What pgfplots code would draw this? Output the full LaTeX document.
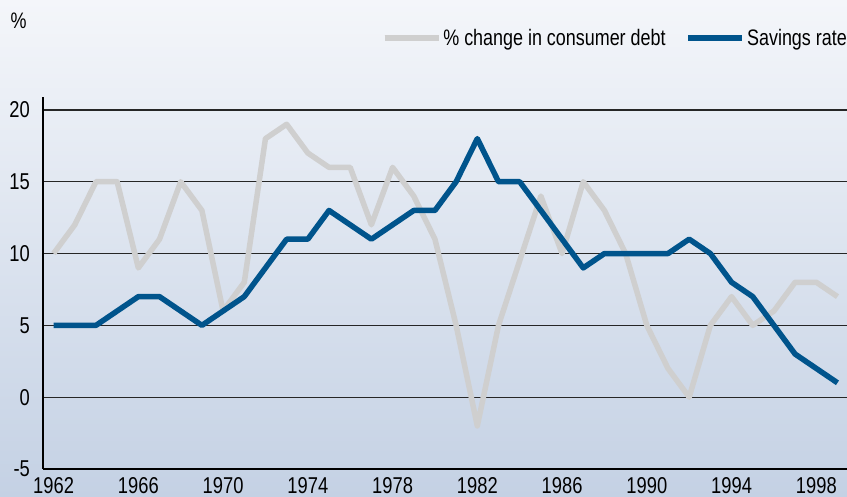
\documentclass[border=0pt]{standalone}
\usepackage{fontspec}
\setmainfont{Liberation Sans}[FakeStretch=0.8]
\usepackage{pgfplots}
\pgfplotsset{compat=1.18}
\definecolor{bgtop}{HTML}{F4F6FA}
\definecolor{bgbot}{HTML}{C4D1E4}
\definecolor{sav}{HTML}{00548C}
\definecolor{debt}{HTML}{CFCFCF}
\pgfplotstableread{
year debt sav
1962 10 5
1963 12 5
1964 15 5
1965 15 6
1966 9 7
1967 11 7
1968 15 6
1969 13 5
1970 6 6
1971 8 7
1972 18 9
1973 19 11
1974 17 11
1975 16 13
1976 16 12
1977 12 11
1978 16 12
1979 14 13
1980 11 13
1981 5 15
1982 -2 18
1983 5 15
1984 9.5 15
1985 14 13
1986 10 11
1987 15 9
1988 13 10
1989 10 10
1990 5 10
1991 2 10
1992 0 11
1993 5 10
1994 7 8
1995 5 7
1996 6 5
1997 8 3
1998 8 2
1999 7 1
}\datatable
\begin{document}
\begin{tikzpicture}[x=1bp,y=1bp]
\shade[top color=bgtop, bottom color=bgbot] (0,0) rectangle (847,497);
\node[anchor=center, inner sep=0pt, font=\fontsize{22.5}{26}\selectfont] at (18.5,476) {\%};
\begin{axis}[
  at={(43bp,28bp)}, anchor=south west,
  scale only axis, width=804bp, height=372bp,
  xmin=1961.5, xmax=1999.45, ymin=-5, ymax=20.9,
  axis x line=bottom, axis y line=left,
  axis line style={black, line width=1.2bp, -},
  xtick={1962,1966,...,1998},
  xticklabels={1962,1966,1970,1974,1978,1982,1986,1990,1994,1998},
  ytick={-5,0,5,10,15,20},
  yticklabels={-5,0,5,10,15,20},
  major tick length=0pt,
  ymajorgrids,
  grid style={black!85, line width=1.2bp},
  tick label style={font=\fontsize{23}{26}\selectfont},
  xticklabel style={inner sep=0pt, anchor=north, yshift=-8bp},
  yticklabel style={inner sep=0pt, anchor=east, xshift=-13bp},
  legend columns=2,
  legend style={at={(1.0062,1.1586)}, anchor=east, draw=none, fill=none,
    font=\fontsize{22.5}{26}\selectfont,
    /tikz/every even column/.append style={column sep=18bp}},
  legend image code/.code={\path (0bp,0bp) -- (54bp,0bp);\draw[#1] (0bp,0bp) -- (50bp,0bp);},
  every axis plot/.append style={line width=5.5bp, line join=round},
]
\addplot[debt] table[x=year, y=debt] {\datatable};
\addlegendentry{\% change in consumer debt}
\addplot[sav] table[x=year, y=sav] {\datatable};
\addlegendentry{Savings rate}
\end{axis}
\pgfresetboundingbox
\path[use as bounding box] (0,0) rectangle (847,497);
\end{tikzpicture}
\end{document}
